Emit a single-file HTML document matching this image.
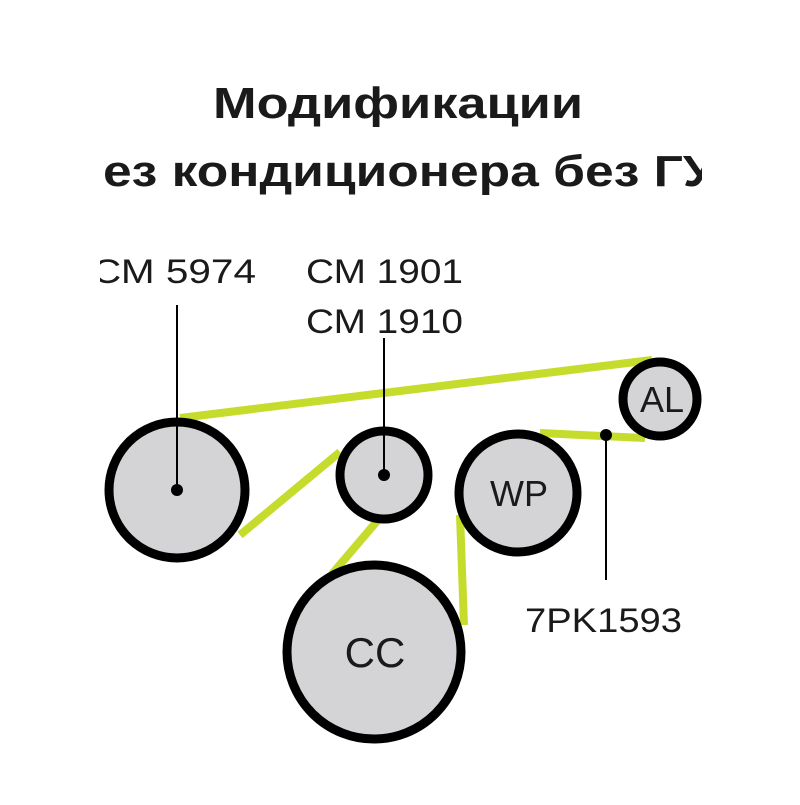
<!DOCTYPE html>
<html><head><meta charset="utf-8"><style>html,body{margin:0;padding:0;background:#fff}</style></head>
<body>
<svg width="800" height="800" viewBox="0 0 800 800" xmlns="http://www.w3.org/2000/svg" font-family="Liberation Sans, sans-serif">
<defs><clipPath id="c"><rect x="100" y="0" width="602" height="800"/></clipPath></defs>
<g clip-path="url(#c)">
<text x="213" y="118" font-size="44" font-weight="bold" fill="#1a1a1a" textLength="370" lengthAdjust="spacingAndGlyphs">Модификации</text>
<text x="103" y="186" font-size="44" font-weight="bold" fill="#1a1a1a" textLength="612" lengthAdjust="spacingAndGlyphs">ез кондиционера без ГУ</text>
<text x="92" y="283" font-size="34" fill="#1a1a1a" textLength="164" lengthAdjust="spacingAndGlyphs">СМ 5974</text>
<text x="306" y="283" font-size="34" fill="#1a1a1a" textLength="157" lengthAdjust="spacingAndGlyphs">СМ 1901</text>
<text x="306" y="333" font-size="34" fill="#1a1a1a" textLength="157" lengthAdjust="spacingAndGlyphs">СМ 1910</text>
<text x="525" y="632" font-size="34" fill="#1a1a1a" textLength="157" lengthAdjust="spacingAndGlyphs">7PK1593</text>
<g stroke="#c6dc2c" stroke-width="8" fill="none">
<line x1="180" y1="418" x2="652" y2="360"/>
<line x1="240" y1="535" x2="340" y2="452"/>
<line x1="378" y1="520" x2="332" y2="574"/>
<line x1="460" y1="515" x2="464" y2="625"/>
<line x1="540" y1="433" x2="645" y2="438"/>
</g>
<g fill="#d4d4d6" stroke="#000" stroke-width="9">
<circle cx="177" cy="490" r="68"/>
<circle cx="384" cy="475" r="44"/>
<circle cx="518" cy="493" r="59"/>
<circle cx="660" cy="399" r="37"/>
<circle cx="374" cy="652" r="87"/>
</g>
<g stroke="#000" stroke-width="2">
<line x1="177" y1="305" x2="177" y2="490"/>
<line x1="384" y1="338" x2="384" y2="475"/>
<line x1="606" y1="435" x2="606" y2="580"/>
</g>
<circle cx="177" cy="490" r="6"/>
<circle cx="384" cy="475" r="6"/>
<circle cx="606" cy="435" r="6"/>
<g font-size="36" fill="#1a1a1a" text-anchor="middle">
<text x="662" y="412">AL</text>
<text x="519" y="506">WP</text>
<text x="375" y="667" font-size="42">CC</text>
</g>
</g>
</svg>
</body></html>
